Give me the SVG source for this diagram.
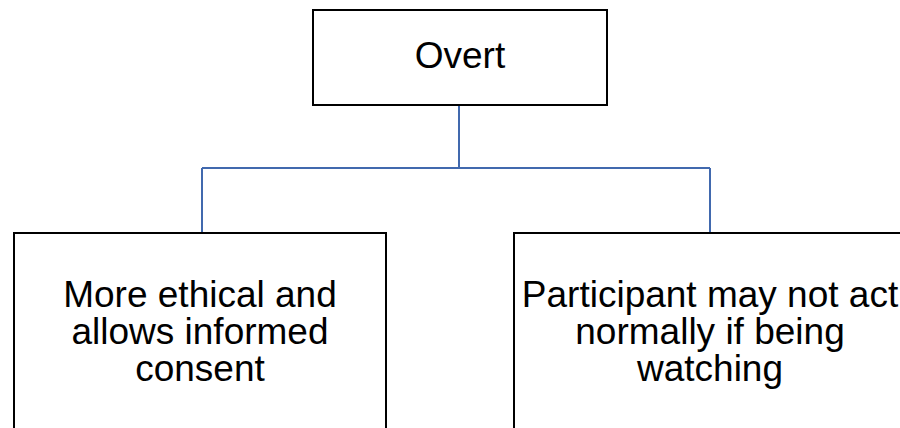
<svg xmlns="http://www.w3.org/2000/svg" width="900" height="428" viewBox="0 0 900 428">
  <style>
    .box { fill: #ffffff; stroke: #000000; stroke-width: 2; }
    .lbl { font-family: "Liberation Sans", Arial, sans-serif; font-size: 37px; fill: #000000; text-anchor: middle; }
    .link { fill: none; stroke: #4169AE; stroke-width: 2; }
  </style>
  <rect width="900" height="428" fill="#ffffff"/>

  <!-- tree connectors -->
  <g id="connectors">
    <path class="link" d="M459,105 V168 M202,168 H710 M202,168 V233 M710,168 V233"/>
  </g>

  <g id="overt">
    <rect class="box" x="313" y="10" width="294" height="95"/>
    <text class="lbl" x="460" y="68">Overt</text>
  </g>

  <g id="ethical">
    <rect class="box" x="14" y="233" width="372" height="210"/>
    <text class="lbl" x="200" y="307">More ethical and</text>
    <text class="lbl" x="200" y="344">allows informed</text>
    <text class="lbl" x="200" y="381">consent</text>
  </g>

  <g id="participant">
    <rect class="box" x="514" y="233" width="400" height="210"/>
    <text class="lbl" x="710" y="307">Participant may not act</text>
    <text class="lbl" x="710" y="344">normally if being</text>
    <text class="lbl" x="710" y="381">watching</text>
  </g>
</svg>
